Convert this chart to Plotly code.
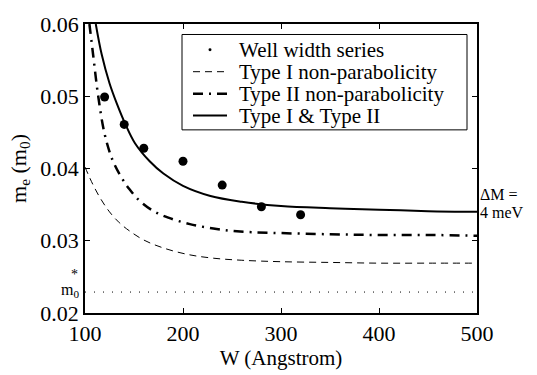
import plotly.graph_objects as go

# Measured data points (well width series)
w_points = [120, 140, 160, 200, 240, 280, 320]
m_points = [0.0499, 0.0461, 0.0428, 0.0410, 0.0377, 0.0347, 0.0336]

# Type I non-parabolicity (dashed)
w_type1 = [100, 108, 116, 125, 135, 145, 160, 180, 205, 230, 260, 300, 350, 400, 450, 500]
m_type1 = [0.0402, 0.0378, 0.0358, 0.0340, 0.0325, 0.0314, 0.0301, 0.0290, 0.0281,
           0.0276, 0.0273, 0.0271, 0.0270, 0.0269, 0.0269, 0.0269]

# Type II non-parabolicity (dash-dot)
w_type2 = [104.5, 108.5, 113.5, 120, 128, 137, 145, 156, 170, 185, 207, 231, 255, 290,
           350, 400, 450, 500]
m_type2 = [0.0600, 0.0555, 0.0500, 0.0448, 0.0412, 0.0388, 0.0372, 0.0355, 0.0341,
           0.0332, 0.0323, 0.0317, 0.0313, 0.0311, 0.0309, 0.0308, 0.0308, 0.0307]

# Type I & Type II (solid)
w_both = [111, 117, 125, 133, 141, 151, 166, 180, 200, 228, 260, 300, 350, 400, 450, 500]
m_both = [0.0600, 0.0558, 0.0518, 0.0488, 0.0462, 0.0435, 0.0410, 0.0393, 0.0376,
          0.0362, 0.0354, 0.0348, 0.0345, 0.0343, 0.0341, 0.0340]

# m0* reference level
w_ref = [100, 500]
m_ref = [0.0229, 0.0229]

legend_labels = ["Well width series", "Type I non-parabolicity",
                 "Type II non-parabolicity", "Type I & Type II"]

x_ticks = [100, 200, 300, 400, 500]
y_ticks = [0.02, 0.03, 0.04, 0.05, 0.06]
y_ticklabels = ["0.02", "0.03", "0.04", "0.05", "0.06"]

FONT = "Liberation Serif"

# plot area geometry (pixels)
W_PX, H_PX = 537, 375
M_L, M_R, M_T, M_B = 85, 60, 16, 56
PW, PH = W_PX - M_L - M_R, H_PX - M_T - M_B


def px(xp):
    return (xp - M_L) / PW


def py(yp):
    return 1 - (yp - M_T) / PH


style_dash = dict(color="black", width=1, dash="7px,5px")
style_dashdot = dict(color="black", width=2.5, dash="10px,6px,2px,6px")
style_solid = dict(color="black", width=2)

fig = go.Figure()
fig.add_trace(go.Scatter(x=w_type1, y=m_type1, mode="lines", name=legend_labels[1],
                         line=dict(shape="spline", **style_dash)))
fig.add_trace(go.Scatter(x=w_type2, y=m_type2, mode="lines", name=legend_labels[2],
                         line=dict(shape="spline", **style_dashdot)))
fig.add_trace(go.Scatter(x=w_both, y=m_both, mode="lines", name=legend_labels[3],
                         line=dict(shape="spline", **style_solid)))
fig.add_trace(go.Scatter(x=w_ref, y=m_ref, mode="lines", name="m0*",
                         line=dict(color="black", width=1, dash="1px,8px")))
fig.add_trace(go.Scatter(x=w_points, y=m_points, mode="markers", name=legend_labels[0],
                         marker=dict(color="black", size=9)))

axis_common = dict(showline=True, linecolor="black", linewidth=1.5, mirror="ticks",
                   ticks="inside", ticklen=5, tickcolor="black", tickwidth=1,
                   showgrid=False, zeroline=False,
                   tickfont=dict(family=FONT, size=22, color="black"))

fig.update_xaxes(range=[100, 500], tickvals=x_ticks,
                 title=dict(text="W (Angstrom)", font=dict(family=FONT, size=21, color="black"),
                            standoff=2),
                 **axis_common)
fig.update_yaxes(range=[0.02, 0.06], tickvals=y_ticks, ticktext=y_ticklabels,
                 title=dict(text="m<sub>e</sub> (m<sub>0</sub>)",
                            font=dict(family=FONT, size=22, color="black"), standoff=8),
                 **axis_common)

# ---- legend box (drawn manually to match the compact row spacing) ----
fig.add_shape(type="rect", xref="paper", yref="paper",
              x0=px(182), x1=px(467), y0=py(127), y1=py(27),
              line=dict(color="black", width=1), fillcolor="white", layer="above")
row_y = [43, 66, 89, 112]
sample_styles = [None, style_dash, style_dashdot, style_solid]
for i, label in enumerate(legend_labels):
    yy = py(row_y[i])
    if sample_styles[i] is None:
        fig.add_shape(type="circle", xref="paper", yref="paper",
                      x0=px(208.5), x1=px(211.5), y0=py(row_y[i] + 1.5), y1=py(row_y[i] - 1.5),
                      fillcolor="black", line=dict(color="black", width=0), layer="above")
    else:
        fig.add_shape(type="line", xref="paper", yref="paper",
                      x0=px(193), x1=px(227), y0=yy, y1=yy,
                      line=sample_styles[i], layer="above")
    fig.add_annotation(x=px(237), y=yy, xref="paper", yref="paper",
                       xanchor="left", yanchor="middle", text=label, showarrow=False,
                       font=dict(family=FONT, size=21, color="black"))

# ---- side annotations ----
fig.add_annotation(x=1.0, y=py(195), xref="paper", yref="paper", xanchor="left",
                   yanchor="middle", text="ΔM =", showarrow=False, xshift=1,
                   font=dict(family=FONT, size=16, color="black"))
fig.add_annotation(x=1.0, y=py(214), xref="paper", yref="paper", xanchor="left",
                   yanchor="middle", text="4 meV", showarrow=False, xshift=1,
                   font=dict(family=FONT, size=16, color="black"))
fig.add_annotation(x=0, y=py(295), xref="paper", yref="paper", xanchor="right",
                   yanchor="middle", text="m<sub>0</sub>", showarrow=False, xshift=-4,
                   font=dict(family=FONT, size=16, color="black"))
fig.add_annotation(x=0, y=py(279), xref="paper", yref="paper", xanchor="right",
                   yanchor="middle", text="*", showarrow=False, xshift=-5,
                   font=dict(family=FONT, size=14, color="black"))

fig.update_layout(
    width=W_PX, height=H_PX,
    margin=dict(l=M_L, r=M_R, t=M_T, b=M_B),
    paper_bgcolor="white", plot_bgcolor="white",
    font=dict(family=FONT, size=20, color="black"),
    showlegend=False,
)

fig.write_html("out.html")
